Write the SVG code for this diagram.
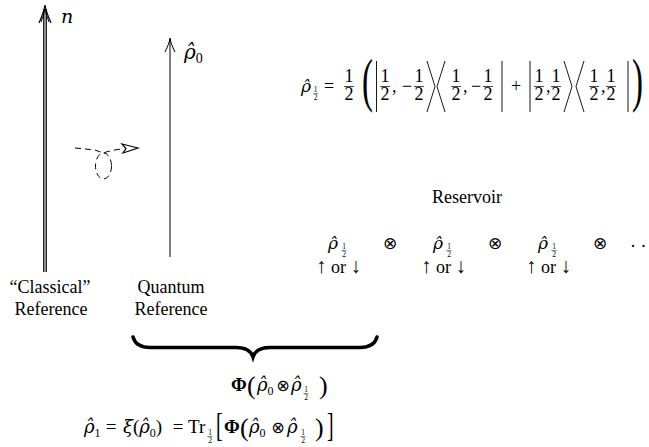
<svg xmlns="http://www.w3.org/2000/svg" width="649" height="447" viewBox="0 0 649 447" font-family="Liberation Serif, DejaVu Serif, serif">
<style>
.m{font-size:18px}
.big{font-size:19px}
.g{font-family:"DejaVu Serif",serif;font-style:italic}
.c{text-anchor:middle}
.ox{font-family:"DejaVu Sans",sans-serif;text-anchor:middle}
.ln{stroke:#000;fill:none}
.dash{stroke:#000;fill:none;stroke-width:1;stroke-dasharray:6 4}
</style>
<defs>
  <g id="fr">
    <text class="m c" x="0" y="-10">1</text>
    <line class="ln" x1="-5" y1="-5.5" x2="5" y2="-5.5" stroke-width="0.7"/>
    <text class="m c" x="0" y="8">2</text>
  </g>
  <g id="sh">
    <text class="c" x="0" y="0" font-size="7.5">1</text>
    <line class="ln" x1="-2.6" y1="1.6" x2="2.6" y2="1.6" stroke-width="0.5"/>
    <text class="c" x="0" y="7.5" font-size="7.5">2</text>
  </g>
</defs>

<g id="classical-ref">
  <line class="ln" x1="43.8" y1="9" x2="43.8" y2="272" stroke-width="1.3"/>
  <line class="ln" x1="46.2" y1="9" x2="46.2" y2="272" stroke-width="1.3"/>
  <path class="ln" stroke-width="1.2" d="M39,23 C42,16 44,11 45,5 C46,11 48,16 51,23"/>
  <path class="ln" stroke-width="1" d="M41,22 C43,16 44.5,12 45,9 C45.5,12 47,16 49,22"/>
  <text class="g" x="61" y="23" font-size="19">n</text>
  <text class="m c" x="50" y="293">“Classical”</text>
  <text class="m c" x="51" y="315">Reference</text>
</g>

<g id="quantum-ref">
  <line class="ln" x1="170" y1="39" x2="170" y2="257" stroke-width="1"/>
  <path class="ln" stroke-width="1" d="M165,52 C168,46 169.5,42 170,38 C170.5,42 172,46 175,52"/>
  <text x="184" y="59" font-size="20"><tspan class="g">ρ̂</tspan><tspan font-size="14" dy="4">0</tspan></text>
  <text class="m c" x="171" y="293">Quantum</text>
  <text class="m c" x="171" y="315">Reference</text>
</g>

<g id="rho-half-formula">
  <text class="g" x="301" y="92" font-size="17">ρ̂</text>
  <use href="#sh" x="315.5" y="92"/>
  <text class="m c" x="329" y="92">=</text>
  <use href="#fr" x="349" y="92"/>
  <text transform="translate(362,100) scale(0.55,1)" font-size="60">(</text>
  <line class="ln" x1="376.5" y1="61" x2="376.5" y2="112" stroke-width="0.9"/>
  <use href="#fr" x="385" y="92"/>
  <text class="m" x="392" y="92">,</text>
  <text class="m c" x="407" y="92">−</text>
  <use href="#fr" x="419" y="92"/>
  <polyline class="ln" stroke-width="0.9" points="427,61 435,86.5 427,112"/>
  <polyline class="ln" stroke-width="0.9" points="445,61 437,86.5 445,112"/>
  <use href="#fr" x="456" y="92"/>
  <text class="m" x="463" y="92">,</text>
  <text class="m c" x="476" y="92">−</text>
  <use href="#fr" x="488" y="92"/>
  <line class="ln" x1="502" y1="61" x2="502" y2="112" stroke-width="0.9"/>
  <text class="m c" x="516" y="92">+</text>
  <line class="ln" x1="530" y1="61" x2="530" y2="112" stroke-width="0.9"/>
  <use href="#fr" x="539" y="92"/>
  <text class="m" x="546" y="92">,</text>
  <use href="#fr" x="556" y="92"/>
  <polyline class="ln" stroke-width="0.9" points="564,61 572,86.5 564,112"/>
  <polyline class="ln" stroke-width="0.9" points="584,61 576,86.5 584,112"/>
  <use href="#fr" x="594" y="92"/>
  <text class="m" x="601" y="92">,</text>
  <use href="#fr" x="611" y="92"/>
  <line class="ln" x1="628" y1="61" x2="628" y2="112" stroke-width="0.9"/>
  <text transform="translate(632,100) scale(0.55,1)" font-size="60">)</text>
</g>

<g id="reservoir">
  <text class="m" x="432" y="203">Reservoir</text>
  <g id="spin1">
    <text class="g" x="328" y="249" font-size="17">ρ̂</text>
    <use href="#sh" x="344" y="249"/>
    <text class="m" x="316" y="273"><tspan font-size="21">↑</tspan> or <tspan font-size="21">↓</tspan></text>
  </g>
  <text class="ox" x="390" y="249" font-size="17">⊗</text>
  <g id="spin2">
    <text class="g" x="433" y="249" font-size="17">ρ̂</text>
    <use href="#sh" x="449" y="249"/>
    <text class="m" x="421" y="273"><tspan font-size="21">↑</tspan> or <tspan font-size="21">↓</tspan></text>
  </g>
  <text class="ox" x="495" y="249" font-size="17">⊗</text>
  <g id="spin3">
    <text class="g" x="538" y="249" font-size="17">ρ̂</text>
    <use href="#sh" x="554" y="249"/>
    <text class="m" x="526" y="273"><tspan font-size="21">↑</tspan> or <tspan font-size="21">↓</tspan></text>
  </g>
  <text class="ox" x="600" y="249" font-size="17">⊗</text>
  <text class="m" x="630" y="252">· ·</text>
</g>

<g id="connectors">
  <path class="dash" d="M75,148 L95,150 L103,153 Q112,150 122,149"/>
  <ellipse class="dash" cx="103.5" cy="166" rx="8" ry="13"/>
  <polygon class="ln" stroke-width="1.2" points="122,144 138,148 123,153 126,148.5"/>
  <path class="ln" stroke-width="3.5" stroke-linecap="round" d="M133,337 Q136,347.5 150,347.5 L236,347.5 Q250,347.5 253,357 Q256,347.5 270,347.5 L360,347.5 Q374,347.5 377,337"/>
</g>

<g id="phi-formula">
  <text class="big" x="231" y="391" font-weight="bold">Φ</text>
  <text x="247" y="394" font-size="26">(</text>
  <text x="257" y="391" font-size="18"><tspan class="g">ρ̂</tspan><tspan font-size="12" dy="4">0</tspan></text>
  <text class="ox" x="283" y="391" font-size="16">⊗</text>
  <text class="g" x="291" y="391" font-size="18">ρ̂</text>
  <use href="#sh" x="306" y="392"/>
  <text x="319" y="394" font-size="26">)</text>
</g>

<g id="xi-formula">
  <text x="84" y="433" font-size="18"><tspan class="g">ρ̂</tspan><tspan font-size="12" dy="4">1</tspan></text>
  <text class="big c" x="111" y="433">=</text>
  <text x="123" y="433" font-size="19"><tspan class="g" font-size="18">ξ</tspan>(<tspan class="g" font-size="18">ρ̂</tspan><tspan font-size="12" dy="4">0</tspan><tspan dy="-4">)</tspan></text>
  <text class="big c" x="178" y="433">=</text>
  <text class="big" x="188" y="433">Tr</text>
  <use href="#sh" x="210" y="435"/>
  <text transform="translate(216,436) scale(0.6,1)" font-size="33">[</text>
  <text class="big" x="224" y="433" font-weight="bold">Φ</text>
  <text x="240" y="436" font-size="26">(</text>
  <text x="249" y="433" font-size="18"><tspan class="g">ρ̂</tspan><tspan font-size="12" dy="4">0</tspan></text>
  <text class="ox" x="278" y="433" font-size="16">⊗</text>
  <text class="g" x="287" y="433" font-size="18">ρ̂</text>
  <use href="#sh" x="303" y="435"/>
  <text x="315" y="436" font-size="26">)</text>
  <text transform="translate(327,436) scale(0.6,1)" font-size="33">]</text>
</g>
</svg>
